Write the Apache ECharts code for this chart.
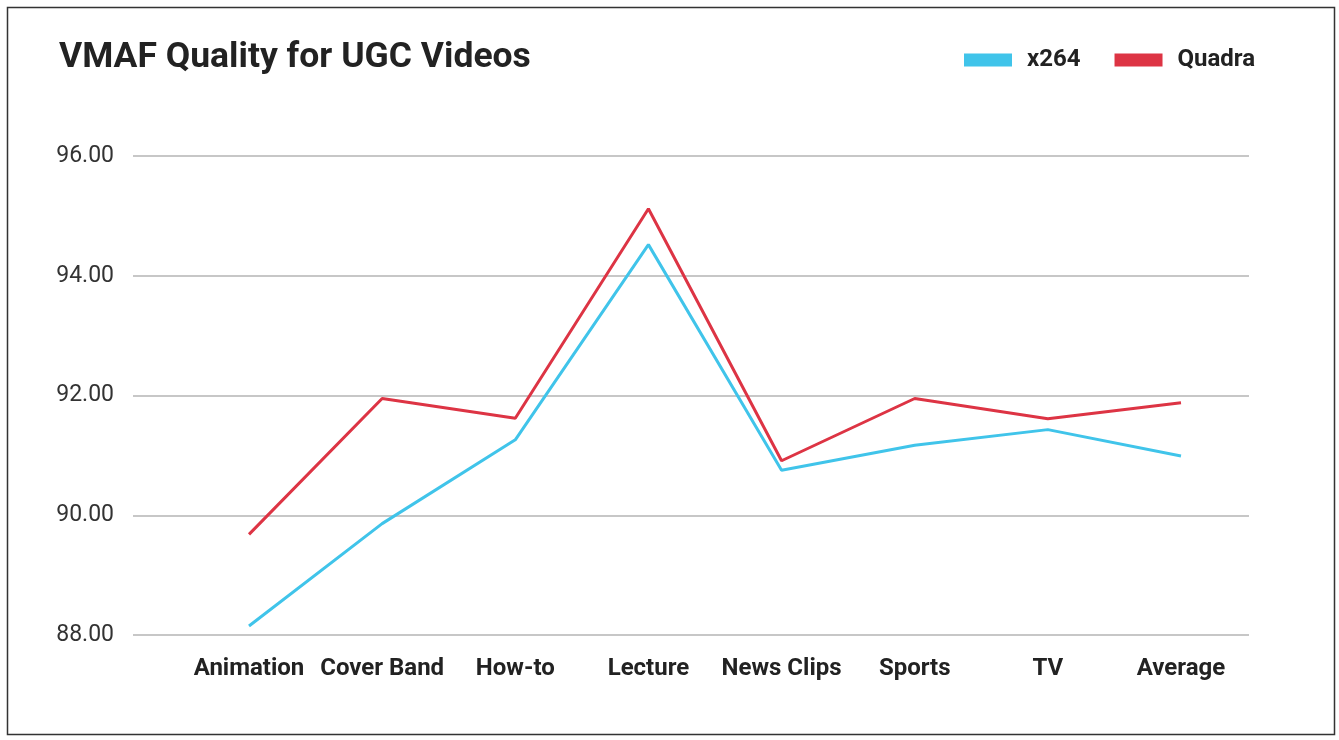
<!DOCTYPE html>
<html>
<head>
<meta charset="utf-8">
<script src="https://cdn.jsdelivr.net/npm/echarts@6/dist/echarts.min.js"></script>
<style>
html,body{margin:0;padding:0;background:#fff;}
#chart{width:1339px;height:740px;}
</style>
</head>
<body>
<div id="chart"></div>
<script>
const categories = ['Animation', 'Cover Band', 'How-to', 'Lecture', 'News Clips', 'Sports', 'TV', 'Average'];
const x264 = [88.15, 89.86, 91.26, 94.52, 90.75, 91.17, 91.43, 90.99];
const quadra = [89.68, 91.95, 91.62, 95.12, 90.91, 91.95, 91.61, 91.88];
const yMin = 88, yMax = 96, yStep = 2;

const chart = echarts.init(document.getElementById('chart'));
const font = 'Roboto, "Noto Sans", sans-serif';
chart.setOption({
  animation: false,
  backgroundColor: '#fff',
  title: {
    text: 'VMAF Quality for UGC Videos',
    left: 54, top: 35,
    textStyle: {fontFamily: font, fontWeight: 'bold', fontSize: 35.5, color: '#222'}
  },
  legend: {
    left: 959, top: 43,
    itemWidth: 48, itemHeight: 13, itemGap: 34,
    icon: 'rect',
    textStyle: {fontFamily: font, fontWeight: 'bold', fontSize: 24, color: '#222', padding: [0, 0, 0, 10]},
    data: ['x264', 'Quadra']
  },
  graphic: [{
    type: 'rect', left: 5, top: 5,
    shape: {width: 1327, height: 727},
    style: {fill: 'none', stroke: '#333', lineWidth: 1.5}
  }],
  grid: [
    {left: 133, right: 90, top: 156, bottom: 105},
    {left: 249, right: 158, top: 156, bottom: 105}
  ],
  xAxis: [
    {gridIndex: 0, type: 'category', data: categories, show: false},
    {gridIndex: 1, type: 'category', data: categories, boundaryGap: false,
     axisLine: {show: false}, axisTick: {show: false}, splitLine: {show: false},
     axisLabel: {fontFamily: font, fontWeight: 'bold', fontSize: 24, color: '#222', margin: 22, interval: 0}}
  ],
  yAxis: [
    {gridIndex: 0, type: 'value', min: yMin, max: yMax, interval: yStep,
     axisLine: {show: false}, axisTick: {show: false},
     splitLine: {lineStyle: {color: '#b4b4b4', width: 1.5}},
     axisLabel: {fontFamily: font, fontSize: 23, color: '#333', margin: 19, formatter: v => v.toFixed(2)}},
    {gridIndex: 1, type: 'value', min: yMin, max: yMax, interval: yStep, show: false}
  ],
  series: [
    {name: 'x264', type: 'line', xAxisIndex: 1, yAxisIndex: 1, data: x264,
     symbol: 'none', color: '#40C4EA', lineStyle: {width: 3, color: '#40C4EA'}},
    {name: 'Quadra', type: 'line', xAxisIndex: 1, yAxisIndex: 1, data: quadra,
     symbol: 'none', color: '#DD3444', lineStyle: {width: 3, color: '#DD3444'}}
  ]
});
</script>
</body>
</html>
